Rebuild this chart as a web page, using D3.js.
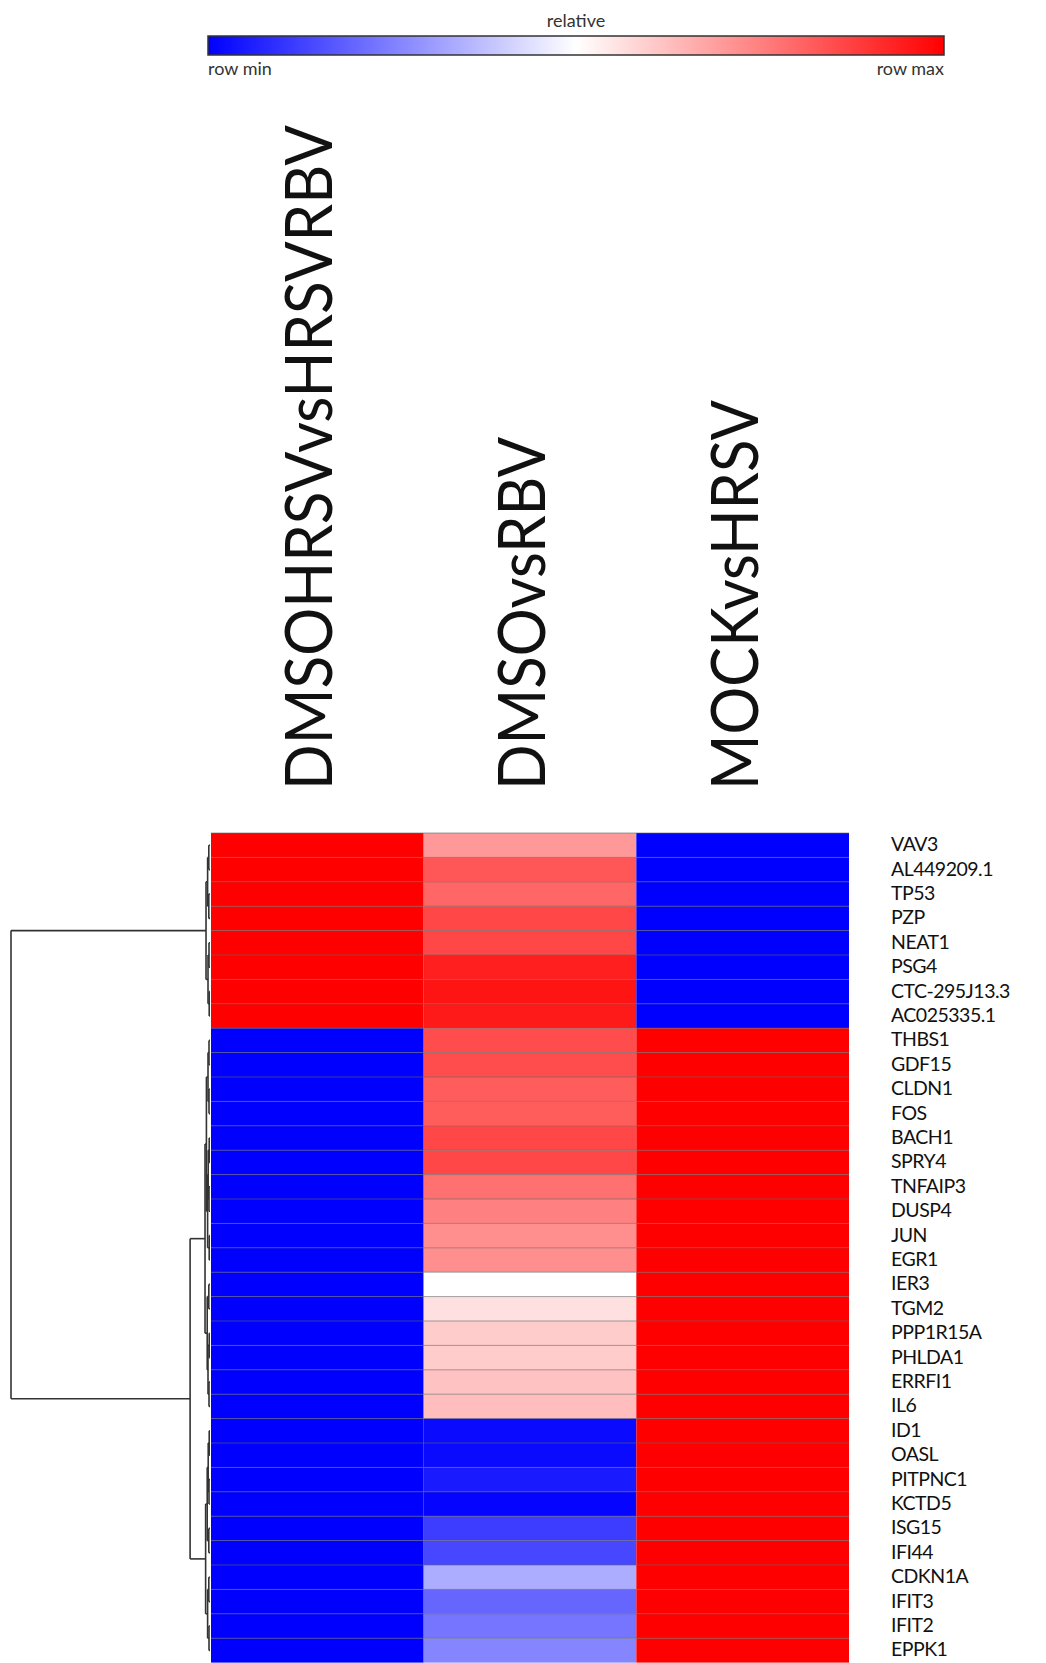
<!DOCTYPE html>
<html>
<head>
<meta charset="utf-8">
<script src="https://cdn.jsdelivr.net/npm/d3@7"></script>
<style>
  html, body { margin: 0; padding: 0; background: #fff; }
  svg { display: block; }
</style>
</head>
<body>
<svg id="chart" width="1046" height="1663"></svg>
<script>
// columns (comparisons) and rows (genes)
const columns = ["DMSOHRSVvsHRSVRBV", "DMSOvsRBV", "MOCKvsHRSV"];
const genes = [
  "VAV3", "AL449209.1", "TP53", "PZP", "NEAT1", "PSG4", "CTC-295J13.3", "AC025335.1",
  "THBS1", "GDF15", "CLDN1", "FOS", "BACH1", "SPRY4", "TNFAIP3", "DUSP4", "JUN", "EGR1",
  "IER3", "TGM2", "PPP1R15A", "PHLDA1", "ERRFI1", "IL6",
  "ID1", "OASL", "PITPNC1", "KCTD5", "ISG15", "IFI44", "CDKN1A", "IFIT3", "IFIT2", "EPPK1"
];

// row-relative values (0 = row min, 1 = row max)
const valDMSOHRSV = [1,1,1,1,1,1,1,1, 0,0,0,0,0,0,0,0,0,0, 0,0,0,0,0,0, 0,0,0,0,0,0,0,0,0,0];
const valDMSOvsRBV = [
  0.70, 0.83, 0.80, 0.86, 0.86, 0.94, 0.96, 0.95,
  0.85, 0.85, 0.82, 0.82, 0.86, 0.86, 0.78, 0.75, 0.72, 0.72,
  0.50, 0.56, 0.60, 0.60, 0.62, 0.63,
  0.02, 0.02, 0.05, 0.01, 0.12, 0.14, 0.34, 0.20, 0.23, 0.26
];
const valMOCK = [0,0,0,0,0,0,0,0, 1,1,1,1,1,1,1,1,1,1, 1,1,1,1,1,1, 1,1,1,1,1,1,1,1,1,1];

// row dendrogram, hclust style: negative = leaf -(i+1), positive = earlier merge (1-based)
const merges = [
  [-1, -2, 0.006], [-3, -4, 0.006], [-5, -6, 0.005], [-7, -8, 0.004],
  [1, 2, 0.012], [3, 4, 0.010], [5, 6, 0.020],
  [-9, -10, 0.005], [-11, -12, 0.005], [8, 9, 0.010],
  [-13, -14, 0.004], [-15, -16, 0.005], [-17, -18, 0.004], [11, 12, 0.009], [14, 13, 0.012],
  [10, 15, 0.018],
  [-19, -20, 0.006], [-21, -22, 0.004], [-23, -24, 0.005], [18, 19, 0.010], [17, 20, 0.014],
  [16, 21, 0.025],
  [-25, -26, 0.004], [-27, -28, 0.005], [23, 24, 0.009], [-29, -30, 0.006], [25, 26, 0.014],
  [-31, -32, 0.006], [-33, -34, 0.005], [28, 29, 0.012], [27, 30, 0.022],
  [22, 31, 0.10],
  [7, 32, 1.0]
];

const svg = d3.select("#chart");

const color = d3.scaleLinear()
  .domain([0, 0.5, 1])
  .range(["#0000ff", "#ffffff", "#ff0000"]);

const x = d3.scaleBand().domain(columns).range([211, 849]);
const y = d3.scaleBand().domain(genes).range([833, 833 + genes.length * 24.4]);

const txtFont = "Lato, 'DejaVu Sans Condensed', sans-serif";

//////////////////////////////////////////////////////////////////
// legend
//////////////////////////////////////////////////////////////////
const legX0 = 208, legX1 = 944, legY = 36, legH = 19;
const grad = svg.append("defs").append("linearGradient")
  .attr("id", "relgrad").attr("x1", "0%").attr("x2", "100%");
d3.range(0, 1.0001, 0.125).forEach(t => {
  grad.append("stop").attr("offset", (t * 100) + "%").attr("stop-color", color(t));
});
svg.append("rect")
  .attr("x", legX0).attr("y", legY)
  .attr("width", legX1 - legX0).attr("height", legH)
  .attr("fill", "url(#relgrad)")
  .attr("stroke", "#333").attr("stroke-width", 1.5);

svg.append("text").attr("x", (legX0 + legX1) / 2).attr("y", 27)
  .attr("text-anchor", "middle").attr("font-family", txtFont).attr("font-size", 18)
  .attr("fill", "#333").text("relative");
svg.append("text").attr("x", legX0).attr("y", 75)
  .attr("font-family", txtFont).attr("font-size", 18).attr("fill", "#333").text("row min");
svg.append("text").attr("x", legX1).attr("y", 75).attr("text-anchor", "end")
  .attr("font-family", txtFont).attr("font-size", 18).attr("fill", "#333").text("row max");

//////////////////////////////////////////////////////////////////
// column headers
//////////////////////////////////////////////////////////////////
const headerLen = { "DMSOHRSVvsHRSVRBV": 665, "DMSOvsRBV": 353, "MOCKvsHRSV": 390 };
svg.append("g").selectAll("text")
  .data(columns)
  .join("text")
  .attr("transform", d => `translate(${x(d) + x.bandwidth() / 2 + 15},790) rotate(-90)`)
  .attr("font-family", txtFont)
  .attr("font-size", 66)
  .attr("fill", "#111")
  .attr("textLength", d => headerLen[d])
  .attr("lengthAdjust", "spacingAndGlyphs")
  .text(d => d);

//////////////////////////////////////////////////////////////////
// heatmap cells
//////////////////////////////////////////////////////////////////
const colVals = [valDMSOHRSV, valDMSOvsRBV, valMOCK];
const cells = [];
columns.forEach((c, j) => {
  genes.forEach((g, i) => cells.push({ col: c, gene: g, v: colVals[j][i] }));
});

svg.append("g").selectAll("rect")
  .data(cells)
  .join("rect")
  .attr("x", d => x(d.col))
  .attr("y", d => y(d.gene))
  .attr("width", x.bandwidth())
  .attr("height", y.bandwidth())
  .attr("fill", d => color(d.v));

// thin row separators
svg.append("g").selectAll("line")
  .data(genes)
  .join("line")
  .attr("x1", x.range()[0]).attr("x2", x.range()[1])
  .attr("y1", d => y(d)).attr("y2", d => y(d))
  .attr("stroke", "#666").attr("stroke-opacity", 0.6).attr("stroke-width", 1);

// gene labels
svg.append("g").selectAll("text")
  .data(genes)
  .join("text")
  .attr("x", 891)
  .attr("y", d => y(d) + y.bandwidth() / 2 + 6)
  .attr("font-family", txtFont)
  .attr("font-size", 19.5)
  .attr("letter-spacing", -0.5)
  .attr("fill", "#111")
  .text(d => d);

//////////////////////////////////////////////////////////////////
// dendrogram
//////////////////////////////////////////////////////////////////
const hx = d3.scaleLinear().domain([0, 1]).range([210, 11]);

function buildNode(ref) {
  if (ref < 0) {
    const i = -ref - 1;
    return { h: 0, y: y(genes[i]) + y.bandwidth() / 2 };
  }
  const m = merges[ref - 1];
  const a = buildNode(m[0]), b = buildNode(m[1]);
  return { h: m[2], children: [a, b] };
}
const root = d3.hierarchy(buildNode(merges.length));
root.eachAfter(n => {
  if (n.children) n.data.y = d3.mean(n.children, c => c.data.y);
});

const dg = svg.append("g")
  .attr("fill", "none").attr("stroke", "#333").attr("stroke-width", 1.6);
root.each(n => {
  if (!n.children) return;
  const nx = hx(n.data.h);
  const ys = n.children.map(c => c.data.y);
  dg.append("line").attr("x1", nx).attr("x2", nx)
    .attr("y1", d3.min(ys)).attr("y2", d3.max(ys));
  n.children.forEach(c => {
    dg.append("line").attr("x1", nx).attr("x2", hx(c.data.h))
      .attr("y1", c.data.y).attr("y2", c.data.y);
  });
});
</script>
</body>
</html>
